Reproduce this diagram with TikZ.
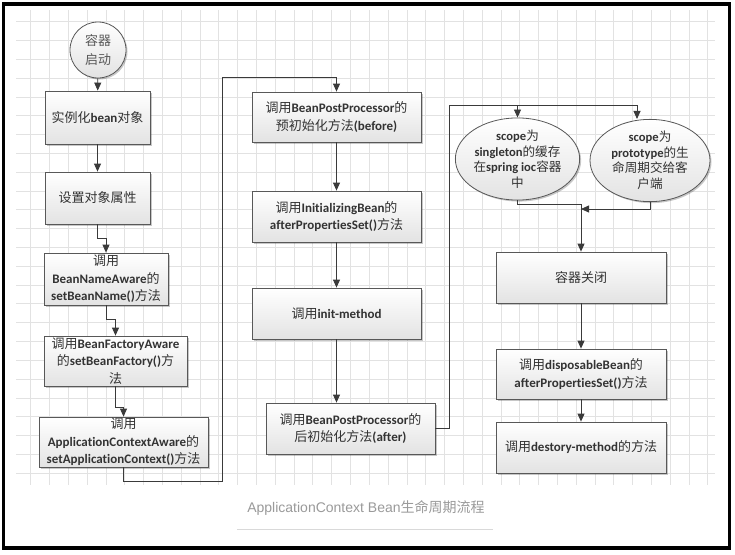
\documentclass[tikz,border=0pt]{standalone}
\usepackage{fontspec}
\setmainfont{Carlito}[Ligatures=NoCommon]
\newfontfamily\cjk{Noto Sans CJK SC}
\newfontfamily\capfont{Liberation Sans}
\usetikzlibrary{arrows.meta,shapes.geometric,shadows}
\newcommand\zh[1]{{\cjk #1}}
\newcommand\en[1]{\textbf{#1}}
\definecolor{gridc}{HTML}{E2E2E2}
\definecolor{linec}{HTML}{3A3A3A}
\definecolor{txt}{HTML}{333333}
\definecolor{capc}{HTML}{9A9A9A}
\begin{document}
\begin{tikzpicture}[x=1pt,y=-1pt,
  shapebase/.style={draw=linec!85, line width=0.8pt, top color=white, bottom color=black!11,
    drop shadow={shadow xshift=1.5pt,shadow yshift=-1.5pt,fill=black,opacity=0.22},
    inner sep=0pt, align=center, text=txt},
  box/.style={shapebase, rectangle, font=\fontsize{13}{17.5}\selectfont},
  oval/.style={shapebase, ellipse, font=\fontsize{12.6}{15.5}\selectfont},
  startc/.style={shapebase, circle, minimum size=56pt, font=\fontsize{13}{19}\selectfont, text=black!65},
  arr/.style={draw=linec, line width=0.8pt, -{Triangle[length=8pt,width=7pt]}},
  conn/.style={draw=linec, line width=0.8pt}
]
\useasboundingbox (0,0) rectangle (735,554);
\fill[white] (0,0) rectangle (735,554);
% grid
\begin{scope}
\clip (16,10) rectangle (715,485);
\foreach \i in {0,...,37} { \draw[gridc, line width=0.8pt] ({11.9+18.81*\i},10) -- ({11.9+18.81*\i},485); }
\foreach \j in {0,...,25} { \draw[gridc, line width=0.8pt] (16,{2.9+18.81*\j}) -- (715,{2.9+18.81*\j}); }
\end{scope}
% frame
\draw[line width=3.5pt, black] (3.5,4) rectangle (729.5,548);

% nodes
\node[startc] (s) at (98,50) {\zh{容器}\\\zh{启动}};
\node[box, minimum width=105, minimum height=53] (b1) at (97.5,117.5) {\zh{实例化}\en{bean}\zh{对象}};
\node[box, minimum width=105, minimum height=52] (b2) at (97.5,198) {\zh{设置对象属性}};
\node[box, minimum width=124, minimum height=52] (b3) at (106,279) {\zh{调用}\\\en{BeanNameAware}\zh{的}\\\en{setBeanName()}\zh{方法}};
\node[box, minimum width=143, minimum height=50] (b4) at (115.5,361) {\zh{调用}\en{BeanFactoryAware}\\\zh{的}\en{setBeanFactory()}\zh{方}\\\zh{法}};
\node[box, minimum width=169, minimum height=50] (b5) at (123.5,442) {\zh{调用}\\\en{ApplicationContextAware}\zh{的}\\\en{setApplicationContext()}\zh{方法}};

\node[box, minimum width=169, minimum height=50] (b6) at (336.5,117) {\zh{调用}\en{BeanPostProcessor}\zh{的}\\\zh{预初始化方法}\en{(before)}};
\node[box, minimum width=169, minimum height=51] (b7) at (336.5,216.5) {\zh{调用}\en{InitializingBean}\zh{的}\\\en{afterPropertiesSet()}\zh{方法}};
\node[box, minimum width=169, minimum height=51] (b8) at (336.5,313.5) {\zh{调用}\en{init-method}};
\node[box, minimum width=169, minimum height=51] (b9) at (350.5,428.5) {\zh{调用}\en{BeanPostProcessor}\zh{的}\\\zh{后初始化方法}\en{(after)}};

\node[oval, minimum width=119, minimum height=76] (e1) at (517.5,159) {\en{scope}\zh{为}\\\en{singleton}\zh{的缓存}\\\zh{在}\en{spring ioc}\zh{容器}\\\zh{中}};
\node[oval, minimum width=120, minimum height=75] (e2) at (650,160.5) {\en{scope}\zh{为}\\\en{prototype}\zh{的生}\\\zh{命周期交给客}\\\zh{户端}};

\node[box, minimum width=170, minimum height=51] (b10) at (581,277.5) {\zh{容器关闭}};
\node[box, minimum width=170, minimum height=50] (b11) at (581,374) {\zh{调用}\en{disposableBean}\zh{的}\\\en{afterPropertiesSet()}\zh{方法}};
\node[box, minimum width=170, minimum height=51] (b12) at (581,447.5) {\zh{调用}\en{destory-method}\zh{的方法}};

% helper coordinates
\coordinate (c1) at (222,481);
\coordinate (c2) at (222,77);
\coordinate (c3) at (449,105);
\coordinate (c4) at (637,105);
\coordinate (c5) at (517.5,105);
\coordinate (m1) at (581,204);
\coordinate (m2) at (581,209);

% connectors
\draw[arr] (s) -- (b1);
\draw[arr] (b1) -- (b2);
\draw[arr] (b2.south) -- ++(0,14) -| (b3.north);
\draw[arr] (b3.south) -- ++(0,14) -| (b4.north);
\draw[arr] (b4.south) -- ++(0,21) -| (b5.north);
\draw[arr] (b5.south) |- (c1) -- (c2) -| (b6.north);
\draw[arr] (b6) -- (b7);
\draw[arr] (b7) -- (b8);
\draw[arr] (b8.south) -- (b8.south |- b9.north);
\draw[conn] (b9.east) -| (c3) -- (c4);
\draw[arr] (c4) -- (c4 |- e2.north);
\draw[arr] (c5) -- (e1.north);
\draw[arr] (e1.south) |- (m1) -- (b10.north);
\draw[arr] (e2.south) |- (m2);
\draw[arr] (b10) -- (b11);
\draw[arr] (b11) -- (b12);

% caption
\node[font=\capfont\fontsize{14}{16}\selectfont, text=capc] (cap) at (366,508) {ApplicationContext Bean{\cjk 生命周期流程}};
\draw[black!15, line width=0.8pt] (237,529) -- (493,529);
\end{tikzpicture}
\end{document}
